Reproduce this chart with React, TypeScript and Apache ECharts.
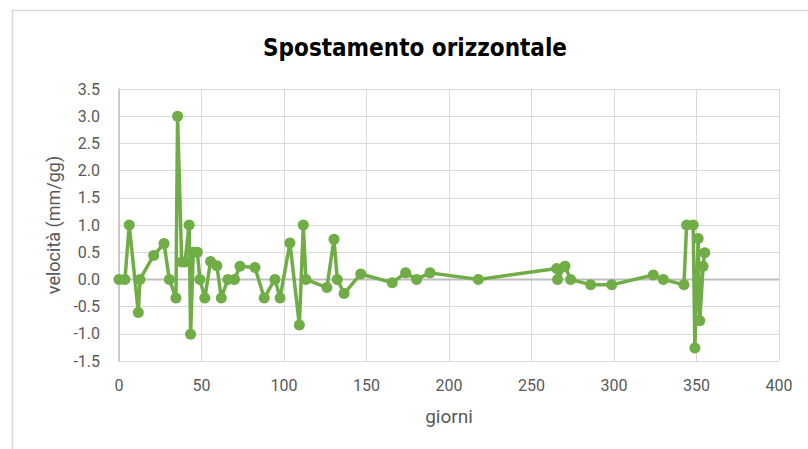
import React, { useEffect, useRef } from "react";
import * as echarts from "echarts";

const days: number[] = [
  0, 3.6, 6.2, 11.7, 12.7, 21, 27.3, 30.5, 34.5, 35.5, 38, 40, 42.5, 43.4, 45, 47.5, 49, 52, 55.5, 59.3,
  62, 66, 70, 73.3, 82.4, 88, 94.5, 97.6, 103.6, 109.3, 111.7, 113.3, 126, 130.3, 132.3, 136.4, 146.5,
  165.6, 173.7, 180.4, 188.5, 217.8, 265.3, 265.8, 270.3, 273.7, 285.9, 298.6, 323.8, 329.9, 342.4,
  344, 348, 349, 351, 352, 354, 355,
];
const velocity: number[] = [
  0, 0, 1.0, -0.61, 0, 0.44, 0.66, 0, -0.34, 3.0, 0.32, 0.32, 1.0, -1.01, 0.5, 0.5, 0, -0.34, 0.33, 0.25,
  -0.34, 0, 0, 0.24, 0.22, -0.34, 0, -0.34, 0.67, -0.84, 1.0, 0, -0.15, 0.74, 0, -0.26, 0.1,
  -0.06, 0.12, 0, 0.12, 0, 0.2, 0, 0.24, 0, -0.1, -0.1, 0.08, 0, -0.1,
  1.0, 1.0, -1.26, 0.75, -0.76, 0.24, 0.49,
];

const TITLE = "Spostamento orizzontale";
const X_NAME = "giorni";
const Y_NAME = "velocità (mm/gg)";
const X_MIN = 0;
const X_MAX = 400;
const X_STEP = 50;
const Y_MIN = -1.5;
const Y_MAX = 3.5;
const Y_STEP = 0.5;

const NARROW = "'Liberation Sans Narrow', 'DejaVu Sans Condensed', Roboto, sans-serif";

export default function App() {
  const ref = useRef<HTMLDivElement>(null);
  useEffect(() => {
    if (!ref.current) return;
    const chart = echarts.init(ref.current, null, { renderer: "svg" });
    const points = days.map((d, i) => [d, velocity[i]]);
    chart.setOption({
      animation: false,
      backgroundColor: "#ffffff",
      title: {
        text: TITLE,
        left: 410,
        top: 31,
        textAlign: "center",
        textStyle: {
          fontFamily: NARROW,
          fontWeight: "bold",
          fontSize: 24,
          color: "#000000",
        },
      },
      graphic: [
        {
          type: "rect",
          shape: { x: 12.5, y: 10.5, width: 900, height: 600 },
          style: { fill: "none", stroke: "#d9d9d9", lineWidth: 1.5 },
          silent: true,
        },
      ],
      grid: { left: 119, right: 29, top: 89, bottom: 88 },
      xAxis: {
        type: "value",
        min: X_MIN,
        max: X_MAX,
        interval: X_STEP,
        name: X_NAME,
        nameLocation: "middle",
        nameGap: 46,
        nameTextStyle: { fontFamily: "Roboto, sans-serif", fontSize: 19, color: "#595959" },
        axisLine: { show: false, onZero: false },
        axisTick: { show: false },
        axisLabel: { fontFamily: "Roboto, sans-serif", fontSize: 16, color: "#595959", margin: 16 },
        splitLine: { show: true, lineStyle: { color: "#d9d9d9", width: 1 } },
      },
      yAxis: {
        type: "value",
        min: Y_MIN,
        max: Y_MAX,
        interval: Y_STEP,
        name: Y_NAME,
        nameLocation: "middle",
        nameGap: 56,
        nameTextStyle: { fontFamily: "Roboto, sans-serif", fontSize: 18, color: "#595959" },
        axisLine: { show: true, lineStyle: { color: "#bfbfbf", width: 1.5 } },
        axisTick: { show: false },
        axisLabel: {
          fontFamily: "Roboto, sans-serif",
          fontSize: 16,
          color: "#595959",
          margin: 19,
          formatter: (v: number) => v.toFixed(1),
        },
        splitLine: { show: true, lineStyle: { color: "#d9d9d9", width: 1 } },
      },
      series: [
        {
          type: "line",
          data: [
            [X_MIN, 0],
            [X_MAX, 0],
          ],
          symbol: "none",
          silent: true,
          z: 1,
          lineStyle: { color: "#bfbfbf", width: 2 },
        },
        {
          type: "line",
          data: points,
          symbol: "circle",
          symbolSize: 11,
          z: 3,
          itemStyle: { color: "#70ad47" },
          lineStyle: { color: "#70ad47", width: 3.5 },
        },
      ],
    });
    return () => chart.dispose();
  }, []);
  return (
    <div
      ref={ref}
      style={{ position: "fixed", left: 0, top: 0, width: 808, height: 449 }}
    />
  );
}
